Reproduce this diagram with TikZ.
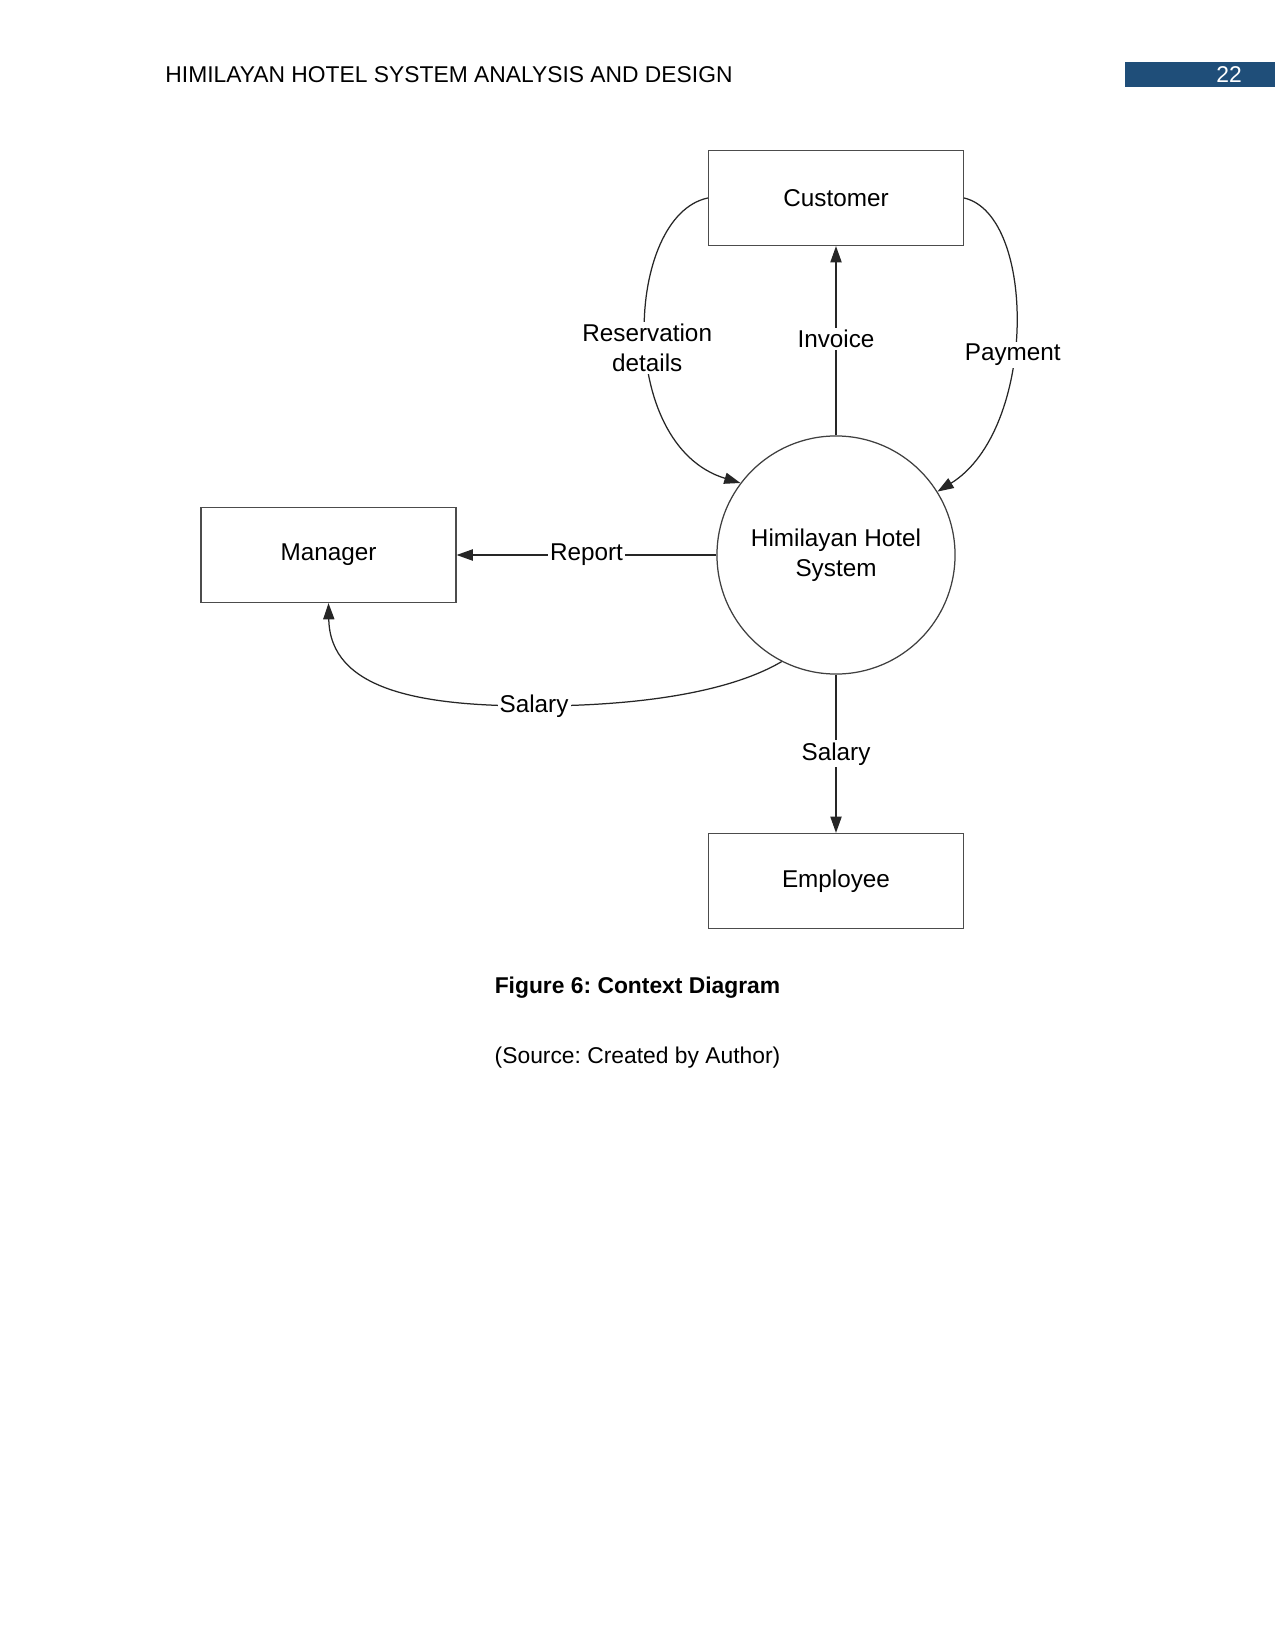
\documentclass[tikz,border=0pt]{standalone}
\usepackage{fontspec}
\setmainfont{Liberation Sans}
\usetikzlibrary{arrows.meta}
\definecolor{hdrblue}{RGB}{31,78,121}
\frenchspacing
\begin{document}
\begin{tikzpicture}[x=0.4818pt,y=-0.4818pt,
  dfont/.style={font=\fontsize{11.7}{14.3}\selectfont},
  ent/.style={draw=black!70, line width=0.6pt, minimum width=122.8pt, minimum height=45.8pt, inner sep=0pt, dfont},
  proc/.style={draw=black!75, circle, line width=0.6pt, minimum size=114.7pt, inner sep=0pt, align=center, dfont},
  flow/.style={draw=black!85, line width=0.6pt, -{Triangle[length=7.8pt,width=5.4pt]}},
  lbl/.style={fill=white, inner sep=1pt, align=center, dfont}]
\useasboundingbox (0,0) rectangle (1275,1650);
\fill[white] (0,0) rectangle (1275,1650);
% header
\node[anchor=base west, inner sep=0pt, font=\fontsize{11}{13}\selectfont] (hdr) at (165,83) {HIMILAYAN HOTEL SYSTEM ANALYSIS AND DESIGN};
\node[fill=hdrblue, minimum width=72.3pt, minimum height=12pt, inner sep=0pt] (pgbox) at (1200,74.5) {};
\node[anchor=base, inner sep=0pt, text=white, font=\fontsize{11}{13}\selectfont] (pgnum) at (1229,83) {22};
% diagram
\node[ent] (cust) at (836,198) {Customer};
\node[proc] (sys) at (836,555) {Himilayan Hotel\\System};
\node[ent] (mgr) at (328.5,555) {Manager};
\node[ent] (emp) at (836,881) {Employee};
\draw[flow] (sys.north) -- node[lbl, pos=0.51]{Invoice} (cust.south);
\draw[flow] (sys.west) -- node[lbl]{Report} (mgr.east);
\draw[flow] (sys.south) -- node[lbl]{Salary} (emp.north);
\draw[flow] (cust.west) .. controls (625,215) and (615,445) .. node[lbl,pos=0.54]{Reservation\\details} (sys.143);
\draw[flow] (cust.east) .. controls (1037,215) and (1037,430) .. node[lbl,pos=0.57]{Payment} (sys.32);
\draw[flow] (sys.243) .. controls (730,692) and (640,706) .. (534,706) node[lbl]{Salary} .. controls (420,706) and (330,690) .. (mgr.south);
% caption
\node[anchor=base, inner sep=0pt, font=\fontsize{11}{13}\selectfont\bfseries] (cap) at (637.5,993) {Figure 6: Context Diagram};
\node[anchor=base, inner sep=0pt, font=\fontsize{11}{13}\selectfont] (src) at (637.5,1063) {(Source: Created by Author)};
\end{tikzpicture}
\end{document}
